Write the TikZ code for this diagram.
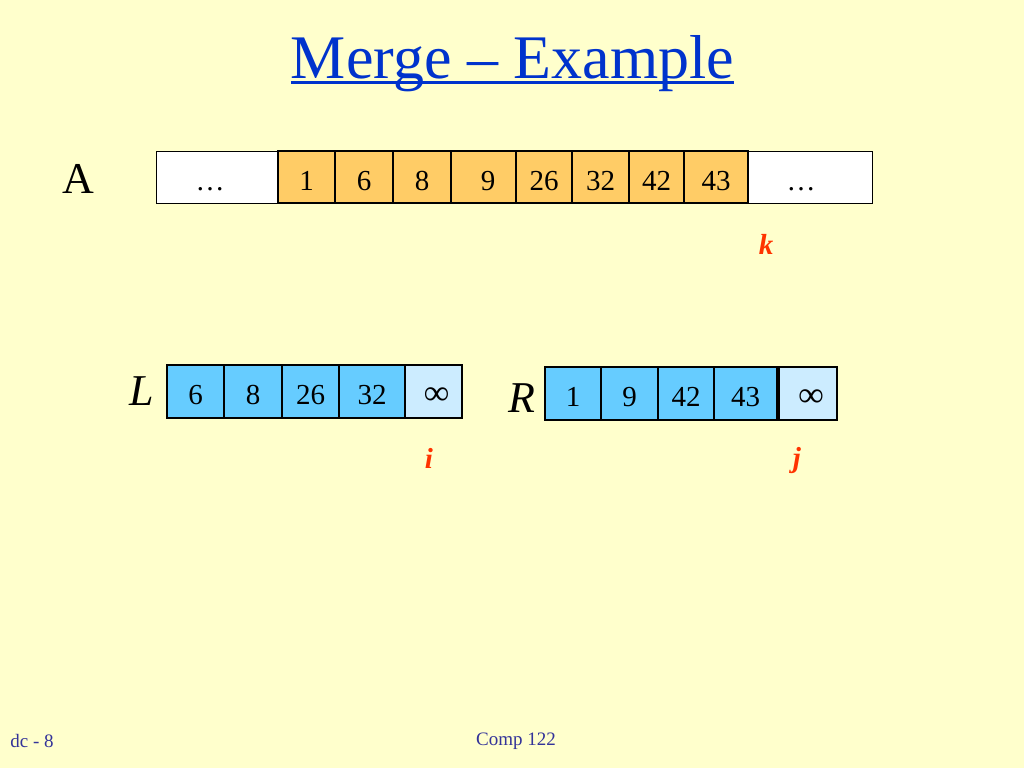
\documentclass[tikz,border=0pt]{standalone}
\usepackage{fontspec}
\setmainfont{Liberation Serif}
\usepackage{xcolor}
\usetikzlibrary{chains}

\definecolor{slidebg}{HTML}{FFFFCC}
\definecolor{titleblue}{HTML}{0033CC}
\definecolor{footblue}{HTML}{333399}
\definecolor{orangecell}{HTML}{FFCC66}
\definecolor{bluecell}{HTML}{66CCFF}
\definecolor{infcell}{HTML}{CCECFF}
\definecolor{idxred}{HTML}{FF3300}

\begin{document}
\begin{tikzpicture}[x=1pt,y=-1pt]

        \tikzstyle{cell}=[draw,minimum height=52pt,inner sep=0pt,outer sep=0pt,text height=26pt,text depth=0pt,font=\fontsize{29}{29}\selectfont]
        \tikzstyle{acell}=[cell,fill=orangecell,line width=1.8pt]
        \tikzstyle{dotcell}=[cell,fill=white,line width=1pt]
        \tikzstyle{lrcell}=[cell,minimum height=53pt,fill=bluecell,line width=1.8pt]
        \tikzstyle{inf}=[lrcell,fill=infcell,font=\fontsize{35}{35}\selectfont\bfseries]
        \tikzstyle{arrname}=[font=\fontsize{44}{44}\selectfont]
        \tikzstyle{idx}=[text=idxred,font=\fontsize{29}{29}\selectfont\bfseries\itshape]

        \fill[slidebg] (0,0) rectangle (1024,768);
        \useasboundingbox (0,0) rectangle (1024,768);

        %% Title
        \node[inner sep=0pt,anchor=base,text=titleblue,font=\fontsize{62}{62}\selectfont] (title) at (512.5,78) {Merge – Example};
        \draw[titleblue,line width=2.8pt] ([yshift=-4.5pt]title.base west) -- ([yshift=-4.5pt]title.base east);

        %% Array A
        \node[arrname] (nameA) at (78,179) {A};
        \begin{scope}[start chain=A going right,node distance=0pt]
            \node [on chain=A,dotcell,minimum width=122pt,anchor=north west] at (156,151) {\ldots\rule{14pt}{0pt}};
            \node [on chain=A,acell,minimum width=57pt] {1};
            \node [on chain=A,acell,minimum width=58pt] {6};
            \node [on chain=A,acell,minimum width=58pt] {8};
            \node [on chain=A,acell,minimum width=65pt] {\hspace{9pt}9};
            \node [on chain=A,acell,minimum width=56pt] {26};
            \node [on chain=A,acell,minimum width=57pt] {32};
            \node [on chain=A,acell,minimum width=55pt] {42};
            \node [on chain=A,acell,minimum width=64pt] {43};
            \node [on chain=A,dotcell,minimum width=124pt] {\ldots\rule{18pt}{0pt}};
        \end{scope}
        \node[idx] (k) at (766,244) {k};

        %% Array L
        \node[arrname,font=\fontsize{44}{44}\selectfont\itshape] (nameL) at (142,391) {L};
        \begin{scope}[start chain=L going right,node distance=0pt]
            \node [on chain=L,lrcell,minimum width=57pt,anchor=north west] at (167,365) {6};
            \node [on chain=L,lrcell,minimum width=58pt] {8};
            \node [on chain=L,lrcell,minimum width=57pt] {26};
            \node [on chain=L,lrcell,minimum width=66pt] {32};
            \node [on chain=L,inf,minimum width=57pt] {\hspace{6pt}∞};
        \end{scope}
        \node[idx] (i) at (429,458) {i};

        %% Array R
        \node[arrname,font=\fontsize{44}{44}\selectfont\itshape] (nameR) at (522,398) {R};
        \begin{scope}[start chain=R going right,node distance=0pt]
            \node [on chain=R,lrcell,minimum width=56pt,anchor=north west] at (545,367) {1};
            \node [on chain=R,lrcell,minimum width=57pt] {9};
            \node [on chain=R,lrcell,minimum width=56pt] {42};
            \node [on chain=R,lrcell,minimum width=63pt] {43};
            \node [node distance=2pt,on chain=R,inf,minimum width=58pt] {\hspace{6pt}∞};
        \end{scope}
        \node[idx] (j) at (797,461) {j};

        %% Footer
        \node[text=footblue,font=\fontsize{19}{19}\selectfont] (slideno) at (32,741) {dc - 8};
        \node[text=footblue,font=\fontsize{19}{19}\selectfont] (course) at (516,741) {Comp 122};

\end{tikzpicture}
\end{document}
